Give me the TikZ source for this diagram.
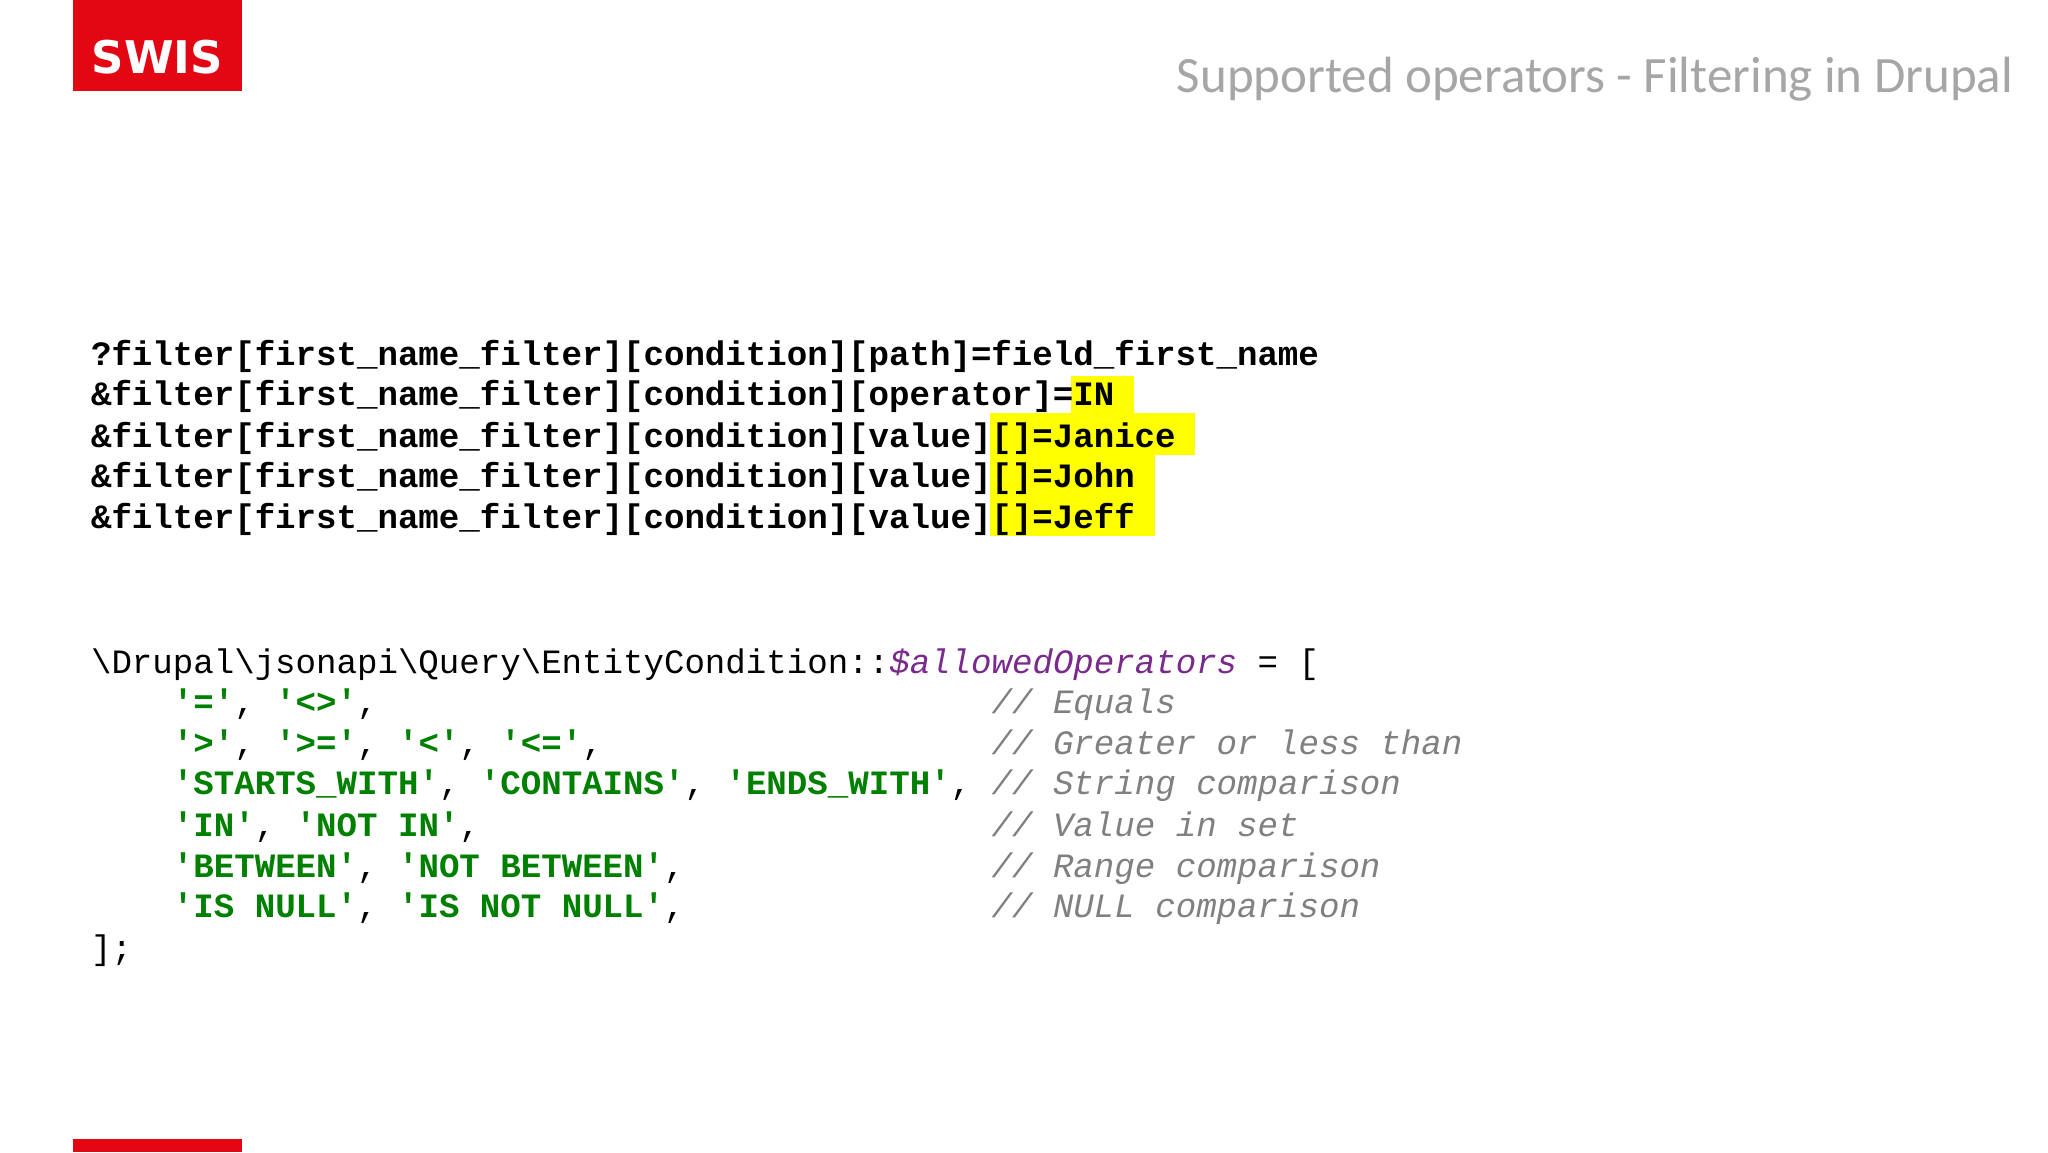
\documentclass[tikz,border=0pt]{standalone}
\usepackage{fontspec}
\setmainfont{Carlito}
\setmonofont{Liberation Mono}
\newfontfamily\logofont{DejaVu Sans}
\definecolor{swred}{HTML}{E30613}
\definecolor{hl}{HTML}{FFFF00}
\definecolor{cgreen}{HTML}{008000}
\definecolor{cgray}{HTML}{808080}
\definecolor{cpurple}{HTML}{7A2A8C}
\definecolor{tgray}{HTML}{A6A6A6}
\tikzset{code/.style={anchor=base west,inner sep=0pt,yshift=-0.085cm,font=\ttfamily\fontsize{7.43pt}{9pt}\selectfont}}
\newcommand{\gs}[1]{\textcolor{cgreen}{\bfseries #1}}
\newcommand{\cm}[1]{\textcolor{cgray}{\itshape #1}}
\begin{document}
\begin{tikzpicture}[x=1cm,y=1cm]
\useasboundingbox (0,0) rectangle (15.68,8.82);
\fill[white] (0,0) rectangle (15.68,8.82);
% logo
\fill[swred] (0.56,8.12) rectangle (1.85,8.82);
\node[text=white,font=\logofont\bfseries\fontsize{9.8pt}{10pt}\selectfont] (logo) at (1.205,8.38) {SWIS};
\fill[swred] (0.56,0) rectangle (1.85,0.10);
% title
\node[anchor=base east,text=tgray,font=\fontsize{11.1pt}{13pt}\selectfont,inner sep=0pt] (title) at (15.42,8.11) {Supported operators - Filtering in Drupal};
% highlights
\fill[hl] (8.20,5.66) rectangle (8.68,5.94);
\fill[hl] (7.58,5.34) rectangle (9.15,5.66);
\fill[hl] (7.58,5.03) rectangle (8.84,5.34);
\fill[hl] (7.58,4.72) rectangle (8.84,5.03);
% query lines
\node[code,font=\ttfamily\bfseries\fontsize{7.43pt}{9pt}\selectfont] (q1) at (0.69,6.11) {?filter[first\_name\_filter][condition][path]=field\_first\_name};
\node[code,font=\ttfamily\bfseries\fontsize{7.43pt}{9pt}\selectfont] (q2) at (0.69,5.80) {\&filter[first\_name\_filter][condition][operator]=IN};
\node[code,font=\ttfamily\bfseries\fontsize{7.43pt}{9pt}\selectfont] (q3) at (0.69,5.48) {\&filter[first\_name\_filter][condition][value][]=Janice};
\node[code,font=\ttfamily\bfseries\fontsize{7.43pt}{9pt}\selectfont] (q4) at (0.69,5.17) {\&filter[first\_name\_filter][condition][value][]=John};
\node[code,font=\ttfamily\bfseries\fontsize{7.43pt}{9pt}\selectfont] (q5) at (0.69,4.86) {\&filter[first\_name\_filter][condition][value][]=Jeff};
% php block
\node[code] (p0) at (0.69,3.75) {\textbackslash Drupal\textbackslash jsonapi\textbackslash Query\textbackslash EntityCondition::\textcolor{cpurple}{\itshape\$allowedOperators} = [};
\node[code] (p1) at (1.317,3.44) {\gs{'='}, \gs{'<>'},};
\node[code] (p2) at (1.317,3.13) {\gs{'>'}, \gs{'>='}, \gs{'<'}, \gs{'<='},};
\node[code] (p3) at (1.317,2.82) {\gs{'STARTS\_WITH'}, \gs{'CONTAINS'}, \gs{'ENDS\_WITH'},};
\node[code] (p4) at (1.317,2.50) {\gs{'IN'}, \gs{'NOT IN'},};
\node[code] (p5) at (1.317,2.19) {\gs{'BETWEEN'}, \gs{'NOT BETWEEN'},};
\node[code] (p6) at (1.317,1.88) {\gs{'IS NULL'}, \gs{'IS NOT NULL'},};
\node[code] (p7) at (0.69,1.56) {];};
\node[code] (c1) at (7.585,3.44) {\cm{// Equals}};
\node[code] (c2) at (7.585,3.13) {\cm{// Greater or less than}};
\node[code] (c3) at (7.585,2.82) {\cm{// String comparison}};
\node[code] (c4) at (7.585,2.50) {\cm{// Value in set}};
\node[code] (c5) at (7.585,2.19) {\cm{// Range comparison}};
\node[code] (c6) at (7.585,1.88) {\cm{// NULL comparison}};
\end{tikzpicture}
\end{document}
